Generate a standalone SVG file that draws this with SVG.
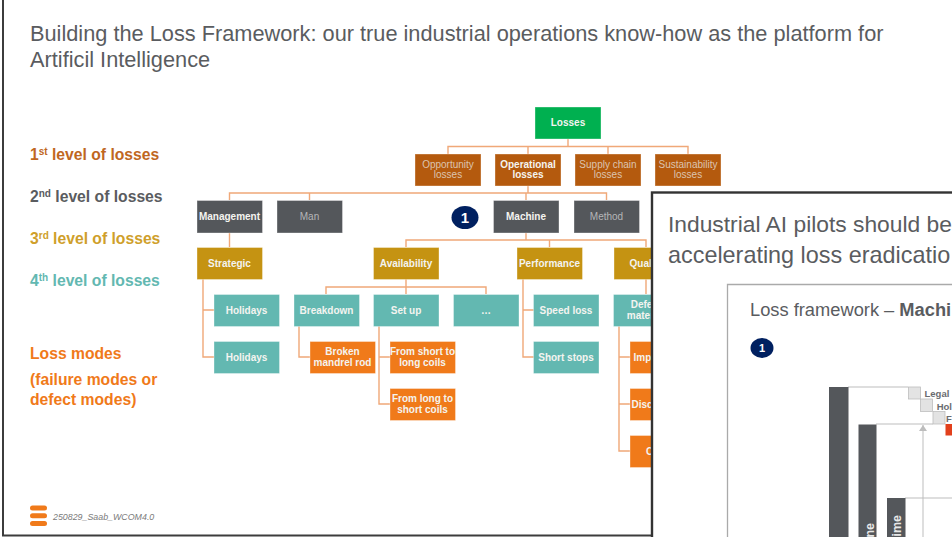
<svg xmlns="http://www.w3.org/2000/svg" width="952" height="537" viewBox="0 0 952 537">
<style>
text{font-family:"Liberation Sans",Arial,sans-serif}
.n{text-anchor:middle;font-size:10px;font-weight:700;fill:#f4f4f0}
.d{text-anchor:middle;font-size:10px;fill:#dcc4b0}
.dg{text-anchor:middle;font-size:10px;fill:#b4b6b8}
.s{text-anchor:start}
.green{fill:#00b050}.rust{fill:#b45a0e}.grey{fill:#54575b}.gold{fill:#c59312}.teal{fill:#63b8b1}.org{fill:#f07a1a}
rect.b{stroke:#fff;stroke-opacity:.35;stroke-width:1}
.c{fill:none;stroke:#f0a878;stroke-width:1.4}
.lg{font-size:15.700px;font-weight:700}
.t{font-size:21.750px;fill:#5a5c5f}
.sq{fill:#e3e3e3;stroke:#bdbdbd;stroke-width:.8}
.bar{fill:#54575b}
.gl{fill:none;stroke:#bdbdbd;stroke-width:1}
.mini{font-size:9.500px;font-weight:700;fill:#6a6c6f}
.bt{font-size:12.500px;font-weight:700;fill:#e8e8e8;text-anchor:end}
</style>
<defs>
<marker id="up" markerWidth="7" markerHeight="8" refX="6" refY="4" orient="auto" markerUnits="userSpaceOnUse"><path d="M0 0L6 4L0 8Z" fill="#bdbdbd"/></marker>
</defs>
<rect width="952" height="537" fill="#fff"/>
<path d="M3 0V535.500H652" fill="none" stroke="#3c3c3c" stroke-width="2"/>
<g id="title"><text class="t" x="30" y="41">Building the Loss Framework: our true industrial operations know-how as the platform for</text><text class="t" x="30" y="67">Artificil Intelligence</text></g>
<g id="legend">
<text class="lg" x="30" y="160" fill="#c0671f">1<tspan font-size="10" dy="-5">st</tspan><tspan dy="5"> level of losses</tspan></text>
<text class="lg" x="30" y="202" fill="#5a5c60">2<tspan font-size="10" dy="-5">nd</tspan><tspan dy="5"> level of losses</tspan></text>
<text class="lg" x="30" y="244" fill="#cf9f2b">3<tspan font-size="10" dy="-5">rd</tspan><tspan dy="5"> level of losses</tspan></text>
<text class="lg" x="30" y="286" fill="#63b8b1">4<tspan font-size="10" dy="-5">th</tspan><tspan dy="5"> level of losses</tspan></text>
<text class="lg" x="30" y="359" fill="#f07a1a">Loss modes</text>
<text class="lg" x="30" y="385" fill="#f07a1a">(failure modes or</text>
<text class="lg" x="30" y="405" fill="#f07a1a">defect modes)</text>
</g>
<g id="connectors">
<path class="c" d="M568 139V146.500M448 154V146.500H688V154M528 146.500V154M608 146.500V154"/>
<path class="c" d="M528 186V193M229.500 200V193H606.500V200M309.500 193V200M526 193V200"/>
<path class="c" d="M229.500 233V247M526 233V240M406 247V240H646V247M549.500 240V247"/>
<path class="c" d="M326 294V287H486V294M406 279V294M646 279V294"/>
<path class="c" d="M203 279V357H214M203 310H214"/>
<path class="c" d="M523 279V357H534M523 310H534"/>
<path class="c" d="M299 326V357H310"/>
<path class="c" d="M379 326V404H390M379 357H390"/>
<path class="c" d="M619 326V451H630M619 357H630M619 404H630"/>
</g>
<g id="n-losses"><rect class="b green" x="535" y="107" width="66" height="32"/><text class="n" x="568" y="126">Losses</text></g>
<g id="n-opportunity"><rect class="b rust" x="415" y="154" width="66" height="32"/><text class="d" x="448" y="168">Opportunity</text><text class="d" x="448" y="178">losses</text></g>
<g id="n-operational"><rect class="b rust" x="495" y="154" width="66" height="32"/><text class="n" x="528" y="168">Operational</text><text class="n" x="528" y="178">losses</text></g>
<g id="n-supply"><rect class="b rust" x="575" y="154" width="66" height="32"/><text class="d" x="608" y="168">Supply chain</text><text class="d" x="608" y="178">losses</text></g>
<g id="n-sustainability"><rect class="b rust" x="655" y="154" width="66" height="32"/><text class="d" x="688" y="168">Sustainability</text><text class="d" x="688" y="178">losses</text></g>
<g id="n-management"><rect class="b grey" x="197" y="200.500" width="65.500" height="32.500"/><text class="n" x="229.500" y="220">Management</text></g>
<g id="n-man"><rect class="b grey" x="277" y="200.500" width="65.500" height="32.500"/><text class="dg" x="309.500" y="220">Man</text></g>
<g id="n-machine"><rect class="b grey" x="493.500" y="200.500" width="65.500" height="32.500"/><text class="n" x="526" y="220">Machine</text></g>
<g id="n-method"><rect class="b grey" x="574" y="200.500" width="65.500" height="32.500"/><text class="dg" x="606.500" y="220">Method</text></g>
<g id="badge-1"><ellipse cx="465" cy="217.500" rx="13.500" ry="11.500" fill="#002060"/><text x="465" y="222.500" text-anchor="middle" font-size="15" font-weight="700" fill="#fff">1</text></g>
<g id="n-strategic"><rect class="b gold" x="197" y="247.500" width="65.500" height="32"/><text class="n" x="229.500" y="267">Strategic</text></g>
<g id="n-availability"><rect class="b gold" x="373.500" y="247.500" width="65.500" height="32"/><text class="n" x="406" y="267">Availability</text></g>
<g id="n-performance"><rect class="b gold" x="517" y="247.500" width="65.500" height="32"/><text class="n" x="549.500" y="267">Performance</text></g>
<g id="n-quality"><rect class="b gold" x="614" y="247.500" width="65.500" height="32"/><text class="n" x="646.500" y="267">Quality</text></g>
<g id="n-holidays1"><rect class="b teal" x="214" y="294.500" width="65.500" height="32"/><text class="n" x="246.500" y="314">Holidays</text></g>
<g id="n-holidays2"><rect class="b teal" x="214" y="341.500" width="65.500" height="32"/><text class="n" x="246.500" y="361">Holidays</text></g>
<g id="n-breakdown"><rect class="b teal" x="294" y="294.500" width="65.500" height="32"/><text class="n" x="326.500" y="314">Breakdown</text></g>
<g id="n-setup"><rect class="b teal" x="373.500" y="294.500" width="65.500" height="32"/><text class="n" x="406" y="314">Set up</text></g>
<g id="n-more"><rect class="b teal" x="453.500" y="294.500" width="65.500" height="32"/><text class="n" x="486" y="314">…</text></g>
<g id="n-speed"><rect class="b teal" x="533.500" y="294.500" width="65.500" height="32"/><text class="n" x="566" y="314">Speed loss</text></g>
<g id="n-short"><rect class="b teal" x="533.500" y="341.500" width="65.500" height="32"/><text class="n" x="566" y="361">Short stops</text></g>
<g id="n-defect"><rect class="b teal" x="613.500" y="294.500" width="65.500" height="32"/><text class="n" x="646" y="308">Defect</text><text class="n" x="646" y="319">material</text></g>
<g id="n-broken"><rect class="b org" x="310" y="341.500" width="65.500" height="32"/><text class="n" x="342.500" y="355">Broken</text><text class="n" x="342.500" y="366">mandrel rod</text></g>
<g id="n-s2l"><rect class="b org" x="390" y="341.500" width="65.500" height="32"/><text class="n" x="422.500" y="355">From short to</text><text class="n" x="422.500" y="366">long coils</text></g>
<g id="n-l2s"><rect class="b org" x="390" y="388.500" width="65.500" height="32"/><text class="n" x="422.500" y="402">From long to</text><text class="n" x="422.500" y="413">short coils</text></g>
<g id="n-imp"><rect class="b org" x="630" y="341.500" width="30" height="32"/><text class="n s" x="633.500" y="361">Imp</text></g>
<g id="n-disc"><rect class="b org" x="630" y="388.500" width="30" height="32"/><text class="n s" x="631.500" y="408">Disc</text></g>
<g id="n-c"><rect class="b org" x="630" y="435.500" width="30" height="32"/><text class="n s" x="646" y="455">C</text></g>
<g id="logo" fill="#f07a1a"><rect x="30" y="505.500" width="17" height="5" rx="2.500"/><rect x="30" y="513.300" width="17" height="5" rx="2.500"/><rect x="30" y="521" width="17" height="5" rx="2.500"/></g>
<text x="53" y="520" font-size="8.850" font-style="italic" fill="#7a7a7a">250829_Saab_WCOM4.0</text>
<g id="overlay">
<rect x="652" y="192.500" width="302" height="346" fill="#fff" stroke="#333" stroke-width="2.400"/>
<text x="668" y="232" font-size="22.800" fill="#5a5c5f">Industrial AI pilots should be</text>
<text x="668" y="262.500" font-size="23.400" fill="#5a5c5f">accelerating loss eradicatio</text>
<path d="M727.500 538V284.500H952" fill="none" stroke="#aaa" stroke-width="1.300"/>
<text x="750" y="316" font-size="18.300" fill="#5a5c5f">Loss framework – <tspan font-weight="700">Machi</tspan></text>
<ellipse cx="762" cy="348" rx="11.500" ry="10" fill="#002060"/><text x="762" y="352" text-anchor="middle" font-size="11" font-weight="700" fill="#fff">1</text>
<path class="gl" d="M848 387H908M876 424H933M905 498H952"/>
<rect class="bar" x="829" y="387" width="19.500" height="150"/>
<rect class="bar" x="858.500" y="424.500" width="18" height="113"/>
<rect class="bar" x="887" y="498" width="18.500" height="39"/>
<text class="bt" transform="translate(874 523) rotate(-90)">ne</text>
<text class="bt" transform="translate(901 515) rotate(-90)">ime</text>
<rect class="sq" x="908.500" y="387" width="12" height="12"/><rect class="sq" x="920.500" y="399" width="12" height="12.500"/><rect class="sq" x="933" y="411.500" width="12" height="12.500"/>
<rect x="945.500" y="424" width="6.500" height="11.500" fill="#e2401c"/>
<text class="mini" x="924.500" y="397">Legal</text><text class="mini" x="936.700" y="409.500">Hol</text><text class="mini" x="946" y="421.500">F</text>
<line x1="923" y1="537" x2="923" y2="425" stroke="#bdbdbd" stroke-width="1" marker-end="url(#up)"/>
</g>
</svg>
